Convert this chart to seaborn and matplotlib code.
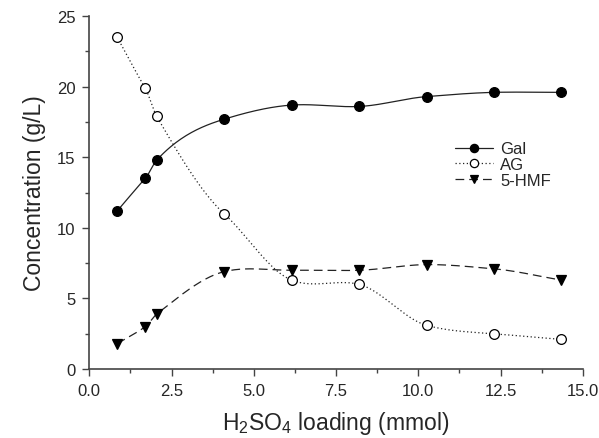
import numpy as np
import pandas as pd
import matplotlib
matplotlib.use("Agg")
import matplotlib.pyplot as plt
import seaborn as sns
from matplotlib.ticker import MultipleLocator, FormatStrFormatter

loading = [0.85, 1.7, 2.05, 4.1, 6.15, 8.2, 10.25, 12.3, 14.35]
gal = [11.2, 13.5, 14.8, 17.7, 18.7, 18.6, 19.3, 19.6, 19.6]
ag = [23.5, 19.9, 17.9, 11.0, 6.3, 6.0, 3.1, 2.5, 2.1]
hmf = [1.8, 3.0, 3.9, 6.9, 7.0, 7.0, 7.4, 7.1, 6.3]
series_names = ["Gal", "AG", "5-HMF"]


def smooth_curve(x, y, n=40, tension=0.75):
    """Cubic Hermite curve through the data points (drawing only)."""
    x = np.asarray(x, float)
    y = np.asarray(y, float)
    h = np.diff(x)
    d = np.diff(y) / h
    m = np.empty_like(y)
    m[0] = d[0]
    m[-1] = d[-1]
    for i in range(1, len(x) - 1):
        m[i] = (h[i] * d[i - 1] + h[i - 1] * d[i]) / (h[i - 1] + h[i])
    m[1:-1] *= tension
    xs_all, ys_all = [], []
    for i in range(len(x) - 1):
        t = np.linspace(0, 1, n)
        h00 = 2 * t**3 - 3 * t**2 + 1
        h10 = t**3 - 2 * t**2 + t
        h01 = -2 * t**3 + 3 * t**2
        h11 = t**3 - t**2
        ys = h00 * y[i] + h10 * h[i] * m[i] + h01 * y[i + 1] + h11 * h[i] * m[i + 1]
        xs = x[i] + t * h[i]
        xs_all.append(xs if i == 0 else xs[1:])
        ys_all.append(ys if i == 0 else ys[1:])
    return np.concatenate(xs_all), np.concatenate(ys_all)


sns.set_style("ticks")
plt.rcParams["font.family"] = ["Liberation Sans", "DejaVu Sans"]
plt.rcParams["mathtext.fontset"] = "custom"
plt.rcParams["mathtext.rm"] = "Liberation Sans"
plt.rcParams["mathtext.it"] = "Liberation Sans"

fig = plt.figure(figsize=(5.99, 4.39), dpi=100)
ax = fig.add_axes([0.149, 0.157, 0.824, 0.804])

styles = [
    dict(ls="-", marker="o", mfc="black"),
    dict(ls=(0, (1, 2)), marker="o", mfc="white"),
    dict(ls=(0, (7, 4)), marker="v", mfc="black"),
]
for name, vals, st in zip(series_names, [gal, ag, hmf], styles):
    xs, ys = smooth_curve(loading, vals)
    sns.lineplot(x=xs, y=ys, ax=ax, color="#222222", lw=0.9, linestyle=st["ls"],
                 estimator=None, sort=False)
    ax.plot(loading, vals, linestyle="none", marker=st["marker"], ms=7,
            mfc=st["mfc"], mec="black", mew=0.9, zorder=3)
    ax.plot([], [], color="#222222", lw=0.9, linestyle=st["ls"], marker=st["marker"],
            ms=7, mfc=st["mfc"], mec="black", mew=0.9, label=name)

ax.set_xlim(0, 15)
ax.set_ylim(0, 25)
ax.xaxis.set_major_locator(MultipleLocator(2.5))
ax.xaxis.set_minor_locator(MultipleLocator(1.25))
ax.yaxis.set_major_locator(MultipleLocator(5))
ax.yaxis.set_minor_locator(MultipleLocator(2.5))
ax.xaxis.set_major_formatter(FormatStrFormatter("%.1f"))
ax.yaxis.set_major_formatter(FormatStrFormatter("%d"))
ax.tick_params(which="major", length=5, width=1, labelsize=12, color="#444444", pad=5)
ax.tick_params(which="minor", length=3, width=1, color="#444444")
for s in ["top", "right"]:
    ax.spines[s].set_visible(False)
for s in ["left", "bottom"]:
    ax.spines[s].set_color("#444444")
    ax.spines[s].set_linewidth(1.2)

ax.set_xlabel("H$_2$SO$_4$ loading (mmol)", fontsize=16.5, labelpad=8)
ax.set_ylabel("Concentration (g/L)", fontsize=16.5, labelpad=8)

ax.legend(loc="upper left", bbox_to_anchor=(0.741, 0.645), frameon=False,
          fontsize=12, handlelength=2.3, handletextpad=0.4, labelspacing=0.05,
          borderpad=0, borderaxespad=0, markerscale=0.85)

fig.savefig("out.png", dpi=100)
